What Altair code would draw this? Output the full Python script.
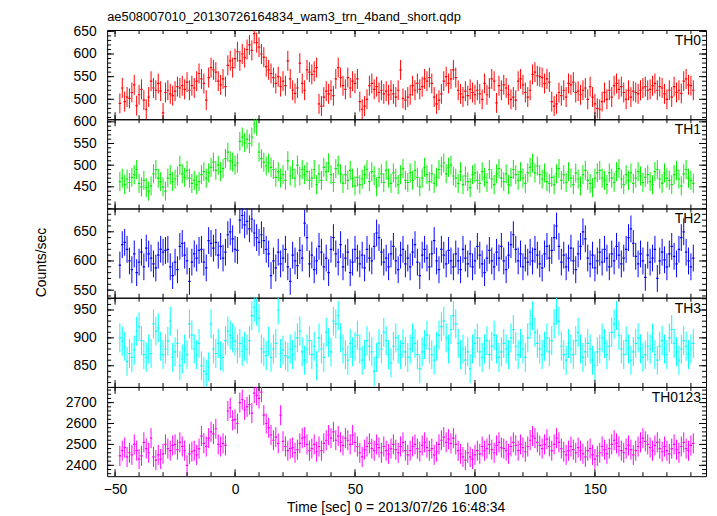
import altair as alt
import pandas as pd

FONT = "Liberation Sans"

# time bins (1 s), seconds from 2013/07/26 16:48:34
TIME = list(range(-48, 192))

TH0 = [
    491, 525, 495, 505, 502, 515, 532, 486, 510, 522, 498, 478, 505, 540, 525, 520, 535, 518, 470, 515,
    520, 512, 508, 518, 528, 525, 530, 522, 538, 520, 530, 525, 540, 557, 545, 535, 498, 548, 570, 565,
    560, 540, 532, 545, 528, 575, 585, 570, 590, 605, 585, 600, 592, 610, 620, 608, 645, 625, 615, 600,
    593, 572, 565, 557, 548, 535, 550, 528, 540, 530, 585, 545, 520, 513, 525, 580, 535, 520, 565, 560,
    555, 562, 570, 490, 485, 505, 518, 512, 520, 508, 545, 570, 548, 530, 522, 548, 525, 540, 535, 545,
    495, 478, 485, 500, 530, 535, 522, 528, 515, 520, 512, 518, 510, 520, 512, 505, 520, 565, 502, 498,
    505, 510, 530, 520, 535, 522, 528, 545, 540, 548, 535, 505, 490, 498, 512, 540, 550, 535, 545, 565,
    548, 520, 512, 505, 518, 508, 522, 515, 510, 520, 512, 500, 535, 510, 525, 545, 540, 492, 530, 520,
    532, 525, 510, 500, 505, 498, 540, 545, 532, 515, 505, 520, 555, 560, 552, 550, 548, 535, 545, 538,
    495, 485, 490, 515, 508, 520, 505, 535, 532, 538, 515, 518, 510, 520, 525, 500, 528, 505, 490, 480,
    478, 495, 515, 500, 520, 505, 530, 535, 522, 528, 515, 500, 520, 505, 518, 515, 512, 520, 525, 528,
    520, 522, 530, 535, 520, 528, 525, 512, 500, 520, 505, 528, 515, 520, 513, 540, 545, 532, 530, 520,
]

TH1 = [
    462, 470, 455, 468, 460, 472, 478, 490, 458, 450, 465, 448, 440, 452, 480, 490, 470, 462, 450, 440,
    470, 478, 462, 468, 475, 500, 480, 472, 488, 470, 458, 465, 455, 462, 478, 485, 470, 482, 495, 507,
    488, 500, 485, 492, 515, 530, 510, 507, 500, 505, 555, 565, 552, 560, 550, 565, 595, 590, 530, 515,
    507, 498, 505, 495, 490, 472, 485, 470, 478, 465, 510, 475, 490, 470, 500, 475, 490, 478, 485, 465,
    470, 490, 455, 480, 465, 495, 485, 505, 478, 460, 492, 500, 480, 458, 478, 465, 488, 470, 452, 472,
    455, 468, 478, 490, 462, 485, 475, 450, 472, 480, 460, 488, 470, 458, 482, 470, 455, 478, 492, 465,
    460, 482, 465, 488, 472, 450, 470, 495, 478, 462, 480, 458, 472, 490, 498, 505, 480, 495, 500, 475,
    470, 458, 485, 455, 475, 462, 448, 478, 482, 465, 458, 485, 472, 460, 490, 468, 455, 480, 492, 470,
    462, 480, 455, 472, 490, 478, 465, 485, 470, 458, 482, 495, 505, 482, 498, 478, 468, 482, 462, 458,
    472, 455, 480, 492, 465, 478, 460, 485, 470, 455, 482, 468, 452, 478, 488, 465, 458, 448, 470, 482,
    488, 470, 465, 455, 482, 470, 460, 485, 492, 468, 455, 478, 465, 482, 458, 470, 485, 475, 460, 472,
    478, 462, 455, 485, 490, 468, 458, 482, 470, 465, 455, 478, 488, 468, 452, 480, 490, 470, 465, 458,
]

TH2 = [
    593, 628, 632, 620, 600, 585, 612, 580, 598, 615, 590, 622, 612, 605, 595, 588, 610, 620, 615, 618,
    620, 590, 575, 598, 585, 625, 630, 610, 600, 565, 598, 612, 605, 618, 620, 598, 588, 635, 630, 622,
    632, 610, 625, 605, 615, 645, 650, 638, 620, 618, 670, 678, 662, 668, 655, 672, 648, 640, 632, 645,
    635, 620, 612, 575, 600, 588, 615, 595, 605, 620, 590, 565, 610, 600, 592, 618, 605, 665, 640, 595,
    610, 585, 600, 625, 615, 590, 605, 580, 620, 640, 612, 598, 628, 590, 605, 615, 580, 598, 620, 605,
    595, 610, 588, 620, 605, 600, 625, 648, 640, 615, 598, 605, 590, 612, 625, 600, 585, 610, 620, 595,
    605, 590, 615, 628, 598, 575, 610, 620, 605, 590, 612, 635, 600, 585, 620, 610, 595, 618, 600, 590,
    612, 600, 585, 620, 605, 595, 612, 590, 600, 625, 610, 595, 580, 605, 618, 600, 590, 615, 605, 625,
    600, 585, 610, 628, 645, 620, 600, 612, 590, 605, 598, 615, 600, 620, 610, 595, 588, 612, 625, 605,
    618, 640, 660, 625, 598, 610, 590, 605, 622, 600, 585, 612, 625, 650, 638, 605, 595, 610, 588, 600,
    615, 598, 620, 605, 590, 612, 600, 625, 610, 595, 605, 620, 640, 655, 630, 608, 595, 612, 600, 572,
    610, 598, 605, 620, 570, 600, 615, 602, 590, 612, 625, 608, 595, 620, 640, 650, 615, 600, 590, 605,
]

TH3 = [
    900, 894, 885, 858, 872, 865, 878, 912, 920, 895, 870, 865, 880, 872, 925, 912, 918, 885, 870, 880,
    894, 930, 865, 875, 890, 850, 862, 880, 870, 925, 905, 880, 870, 890, 850, 840, 835, 848, 925, 880,
    872, 890, 868, 865, 895, 912, 905, 900, 894, 880, 890, 876, 885, 880, 895, 940, 955, 948, 935, 880,
    875, 868, 894, 865, 880, 890, 950, 872, 878, 868, 865, 880, 870, 885, 900, 912, 875, 860, 880, 895,
    870, 885, 850, 900, 880, 865, 910, 892, 875, 930, 925, 940, 900, 880, 870, 860, 890, 875, 885, 905,
    880, 860, 870, 895, 885, 875, 840, 865, 890, 880, 910, 895, 870, 855, 885, 900, 880, 870, 890, 875,
    865, 880, 900, 890, 870, 845, 875, 888, 905, 880, 870, 860, 885, 905, 920, 930, 900, 880, 915, 940,
    925, 890, 870, 880, 860, 875, 845, 880, 890, 900, 875, 865, 880, 895, 870, 885, 905, 880, 865, 875,
    890, 880, 870, 900, 915, 885, 870, 890, 880, 865, 900, 925, 940, 910, 890, 880, 870, 885, 900, 875,
    895, 925, 950, 930, 885, 870, 860, 890, 880, 870, 895, 910, 880, 865, 875, 890, 880, 860, 850, 875,
    880, 900, 890, 870, 885, 910, 925, 940, 905, 880, 870, 895, 880, 860, 875, 890, 900, 880, 865, 870,
    885, 880, 900, 870, 860, 885, 895, 880, 870, 900, 915, 890, 875, 860, 880, 895, 885, 870, 880, 890,
]

TH0123 = [
    2445, 2470, 2485, 2440, 2460, 2450, 2500, 2470, 2430, 2445, 2510, 2480, 2460, 2530, 2440, 2425, 2450, 2430, 2455, 2500,
    2480, 2470, 2495, 2500, 2475, 2510, 2490, 2470, 2400, 2455, 2465, 2470, 2450, 2480, 2540, 2505, 2490, 2530, 2560, 2550,
    2575, 2500, 2490, 2505, 2495, 2660, 2675, 2615, 2620, 2600, 2700, 2715, 2665, 2680, 2690, 2650, 2745, 2735, 2720, 2750,
    2640, 2600, 2580, 2545, 2520, 2535, 2505, 2640, 2515, 2490, 2470, 2480, 2485, 2460, 2475, 2505, 2530, 2535, 2500, 2470,
    2480, 2500, 2465, 2490, 2470, 2505, 2520, 2545, 2530, 2560, 2520, 2540, 2510, 2495, 2530, 2520, 2500, 2545, 2510, 2490,
    2460, 2440, 2475, 2490, 2505, 2480, 2470, 2500, 2485, 2460, 2490, 2470, 2455, 2480, 2500, 2475, 2460, 2490, 2510, 2470,
    2450, 2470, 2490, 2500, 2480, 2465, 2495, 2510, 2485, 2470, 2480, 2450, 2465, 2500, 2520, 2535, 2510, 2525, 2505, 2530,
    2500, 2470, 2455, 2440, 2425, 2460, 2440, 2430, 2450, 2470, 2455, 2490, 2470, 2480, 2500, 2475, 2460, 2495, 2510, 2485,
    2480, 2470, 2455, 2490, 2510, 2495, 2470, 2500, 2485, 2465, 2490, 2520, 2540, 2530, 2510, 2495, 2480, 2500, 2525, 2490,
    2470, 2500, 2530, 2510, 2480, 2465, 2450, 2470, 2490, 2475, 2460, 2485, 2470, 2455, 2440, 2470, 2480, 2450, 2430, 2445,
    2460, 2490, 2475, 2455, 2480, 2500, 2520, 2505, 2490, 2470, 2460, 2480, 2495, 2475, 2450, 2470, 2490, 2510, 2530, 2515,
    2500, 2485, 2470, 2495, 2510, 2480, 2465, 2490, 2470, 2455, 2480, 2500, 2475, 2460, 2490, 2510, 2480, 2470, 2495, 2505,
]

PANEL_NAMES = ["TH0", "TH1", "TH2", "TH3", "TH0123"]
PANEL_VALUES = [TH0, TH1, TH2, TH3, TH0123]
PANEL_ERRORS = [22, 22, 23, 26, 48]
PANEL_DOMAINS = [[456, 653], [400, 606], [537, 690], [812, 972], [2348, 2775]]
PANEL_MAJOR = [[500, 550, 600, 650], [450, 500, 550, 600], [550, 600, 650], [850, 900, 950],
               [2400, 2500, 2600, 2700]]
PANEL_MINOR_STEP = [10, 10, 10, 10, 20]
PANEL_COLORS = ["#ff0000", "#00ee00", "#0000ff", "#00ffff", "#ff00ff"]

X_DOMAIN = [-53.3, 196.3]
X_MAJOR = [-50, 0, 50, 100, 150]
X_MINOR = list(range(-50, 200, 10))

TITLE = "ae508007010_20130726164834_wam3_trn_4band_short.qdp"
X_TITLE = "Time [sec] 0 = 2013/07/26 16:48:34"
Y_TITLE = "Counts/sec"

W = 604
H = 90
MAJ = 7
MIN = 4


def make_panel(i):
    name = PANEL_NAMES[i]
    err = PANEL_ERRORS[i]
    color = PANEL_COLORS[i]
    dom = PANEL_DOMAINS[i]
    last = i == len(PANEL_NAMES) - 1

    df = pd.DataFrame({"t": TIME, "v": PANEL_VALUES[i]})
    df["lo"] = df["v"] - err
    df["hi"] = df["v"] + err
    df["t0"] = df["t"] - 0.5
    df["t1"] = df["t"] + 0.5

    xs = alt.Scale(domain=X_DOMAIN, nice=False, zero=False)
    ys = alt.Scale(domain=dom, nice=False, zero=False)

    if last:
        xaxis = alt.Axis(values=X_MAJOR, ticks=False, domain=False, grid=False,
                         labelFontSize=14, labelFont=FONT, labelColor="black",
                         labelPadding=6, labelFlush=False, labelOverlap=False,
                         title=X_TITLE, titleFont=FONT, titleFontSize=14,
                         titleFontWeight="normal", titleColor="black",
                         titleX=291, titleY=25, titleBaseline="top")
    else:
        xaxis = None

    ykw = dict(values=PANEL_MAJOR[i], ticks=False, domain=False, grid=False, format="d",
               labelFontSize=14, labelFont=FONT, labelColor="black",
               labelPadding=11, labelFlush=False, labelOverlap=False)
    if i == 2:
        yaxis = alt.Axis(title=Y_TITLE, titleFont=FONT, titleFontSize=14,
                         titleFontWeight="normal", titleColor="black",
                         titleX=-59, titleY=54, **ykw)
    else:
        yaxis = alt.Axis(title=None, **ykw)

    X = lambda f: alt.X(f, scale=xs, axis=xaxis)
    Y = lambda f: alt.Y(f, scale=ys, axis=yaxis)

    base = alt.Chart(df)
    errbars = base.mark_rule(color=color, strokeWidth=1, clip=True).encode(
        x=X("t:Q"), y=Y("lo:Q"), y2="hi:Q")
    bins = base.mark_rule(color=color, strokeWidth=1.2, clip=True).encode(
        x=X("t0:Q"), x2="t1:Q", y=Y("v:Q"))

    xmin_df = pd.DataFrame({"p": X_MINOR})
    xmaj_df = pd.DataFrame({"p": X_MAJOR})
    ymaj = PANEL_MAJOR[i]
    step = PANEL_MINOR_STEP[i]
    start = (int(dom[0]) // step + 1) * step
    ymin_df = pd.DataFrame({"p": list(range(start, int(dom[1]) + 1, step))})
    ymaj_df = pd.DataFrame({"p": ymaj})

    def xt(d, ln, top):
        c = alt.Chart(d).mark_rule(color="black", strokeWidth=1)
        if top:
            return c.encode(x=X("p:Q"), y=alt.value(0), y2=alt.value(ln))
        return c.encode(x=X("p:Q"), y=alt.value(H), y2=alt.value(H - ln))

    def yt(d, ln, right):
        c = alt.Chart(d).mark_rule(color="black", strokeWidth=1)
        if right:
            return c.encode(y=Y("p:Q"), x=alt.value(W), x2=alt.value(W - ln))
        return c.encode(y=Y("p:Q"), x=alt.value(0), x2=alt.value(ln))

    ticks = [xt(xmin_df, MIN, False), xt(xmin_df, MIN, True),
             xt(xmaj_df, MAJ, False), xt(xmaj_df, MAJ, True),
             yt(ymin_df, MIN, False), yt(ymin_df, MIN, True),
             yt(ymaj_df, MAJ, False), yt(ymaj_df, MAJ, True)]

    label = alt.Chart(pd.DataFrame({"name": [name]})).mark_text(
        align="right", baseline="alphabetic", fontSize=14, font=FONT, color="black"
    ).encode(x=alt.value(W - 5), y=alt.value(15), text="name:N")

    layers = [errbars, bins, *ticks, label]
    if i == 0:
        head = alt.Chart(pd.DataFrame({"title": [TITLE]})).mark_text(
            align="left", baseline="alphabetic", fontSize=13, font=FONT, color="black"
        ).encode(x=alt.value(0), y=alt.value(-9), text="title:N")
        layers.append(head)
    return alt.layer(*layers).properties(width=W, height=H)


chart = alt.vconcat(*[make_panel(i) for i in range(len(PANEL_NAMES))],
                    spacing=0, bounds="flush").properties(
    padding={"left": 26, "top": 0, "right": 2, "bottom": 2},
    background="white",
).configure_view(stroke="black", strokeWidth=1)

chart.save("out.html", embed_options={"renderer": "svg", "actions": False})
